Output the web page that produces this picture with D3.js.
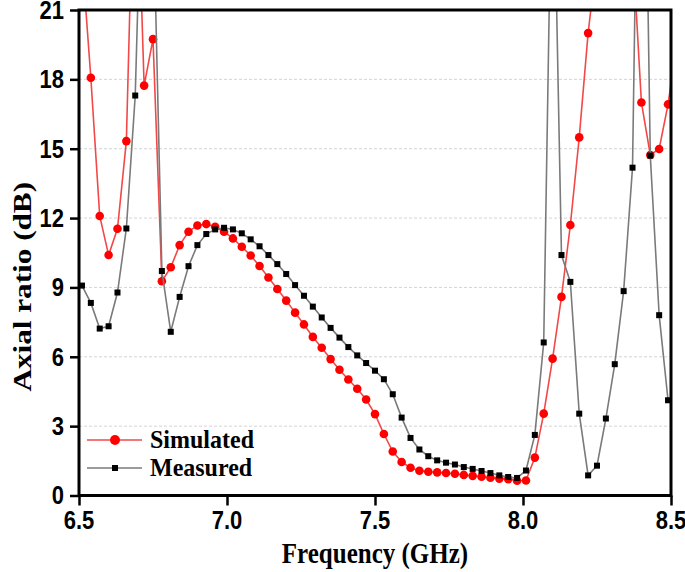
<!DOCTYPE html>
<html><head><meta charset="utf-8">
<script src="https://cdn.jsdelivr.net/npm/d3@7"></script>
<style>body{margin:0;background:#fff}</style>
</head><body><svg id="c" width="685" height="572"></svg>
<script>
// Frequency (GHz)
const freq = [6.51,6.54,6.57,6.60,6.63,6.66,6.69,6.72,6.75,6.78,6.81,6.84,6.87,6.90,6.93,6.96,6.99,
  7.02,7.05,7.08,7.11,7.14,7.17,7.20,7.23,7.26,7.29,7.32,7.35,7.38,7.41,7.44,7.47,7.50,7.53,7.56,7.59,
  7.62,7.65,7.68,7.71,7.74,7.77,7.80,7.83,7.86,7.89,7.92,7.95,7.98,8.01,8.04,8.07,8.10,8.13,8.16,8.19,
  8.22,8.25,8.28,8.31,8.34,8.37,8.40,8.43,8.46,8.49,8.52];
// Axial ratio (dB)
const simulated = [23.3,18.07,12.09,10.40,11.54,15.33,30,17.73,19.74,9.27,9.87,10.83,11.41,11.68,11.74,11.62,11.41,
  11.12,10.76,10.38,9.93,9.43,8.93,8.43,7.91,7.40,6.86,6.39,5.90,5.44,5.02,4.62,4.15,3.52,2.66,1.90,1.45,
  1.20,1.07,1.03,1.00,0.97,0.94,0.89,0.85,0.81,0.77,0.73,0.71,0.64,0.65,1.64,3.54,5.92,8.59,11.70,15.49,
  20.0,23.3,25.5,27,26,23.8,17.0,14.73,14.99,16.92,19.6];
const measured = [9.08,8.33,7.22,7.32,8.78,11.55,17.30,31,26,9.71,7.08,8.59,9.92,10.83,11.31,11.51,11.58,
  11.51,11.34,11.08,10.78,10.40,10.01,9.58,9.10,8.64,8.17,7.70,7.25,6.83,6.42,6.06,5.73,5.40,5.03,4.38,3.37,
  2.49,1.99,1.70,1.52,1.42,1.34,1.23,1.15,1.06,0.97,0.87,0.80,0.76,1.08,2.62,6.62,30,10.40,9.24,3.54,
  0.87,1.29,3.33,5.68,8.84,14.18,40,14.70,7.80,4.12,null];
const xTicks = [6.5,7.0,7.5,8.0,8.5];
const yTicks = [0,3,6,9,12,15,18,21];
const seriesNames = ["Simulated","Measured"];

const svg = d3.select("#c");
const x = d3.scaleLinear().domain([6.5,8.5]).range([79,671]);
const y = d3.scaleLinear().domain([0,21]).range([495.5,10]);
const SY = 1.15; // vertical stretch of the lettering
const sans = "Liberation Sans, Arial, sans-serif";
const serif = "Liberation Serif, Times New Roman, serif";

svg.append("defs").append("clipPath").attr("id","clip")
  .append("rect").attr("x",x(6.5)).attr("y",y(21)).attr("width",x(8.5)-x(6.5)).attr("height",y(0)-y(21));

// grid
svg.append("g").selectAll("line").data(yTicks.filter(d=>d>0&&d<21)).join("line")
  .attr("x1",x(6.5)).attr("x2",x(8.5)).attr("y1",d=>y(d)).attr("y2",d=>y(d))
  .attr("stroke","#d4d4d4").attr("stroke-width",1).attr("stroke-dasharray","3,2");

const data = freq.map((f,i)=>({f, s:simulated[i], m:measured[i]}));
const plot = svg.append("g").attr("clip-path","url(#clip)");

const lineS = d3.line().defined(d=>d.s!=null).x(d=>x(d.f)).y(d=>y(d.s));
const lineM = d3.line().defined(d=>d.m!=null).x(d=>x(d.f)).y(d=>y(d.m));

plot.append("path").datum(data).attr("d",lineS).attr("fill","none").attr("stroke","#f24848").attr("stroke-width",1.6);
plot.append("g").selectAll("circle").data(data.filter(d=>d.s!=null)).join("circle")
  .attr("cx",d=>x(d.f)).attr("cy",d=>y(d.s)).attr("r",4.3).attr("fill","#ff0000");

plot.append("path").datum(data).attr("d",lineM).attr("fill","none").attr("stroke","#7a7a7a").attr("stroke-width",1.6);
plot.append("g").selectAll("rect").data(data.filter(d=>d.m!=null)).join("rect")
  .attr("x",d=>x(d.f)-3).attr("y",d=>y(d.m)-3).attr("width",6).attr("height",6).attr("fill","#000");

// axes (ticks only; labels below)
const ax = svg.append("g").attr("transform",`translate(0,${y(0)})`)
  .call(d3.axisBottom(x).tickValues(xTicks).tickFormat("").tickSize(10).tickSizeOuter(0));
const ay = svg.append("g").attr("transform",`translate(${x(6.5)},0)`)
  .call(d3.axisLeft(y).tickValues(yTicks).tickFormat("").tickSize(9).tickSizeOuter(0));
[ax,ay].forEach(g=>{
  g.select(".domain").remove();
  g.selectAll(".tick line").attr("stroke","#000").attr("stroke-width",2.5);
});
const fx = d3.format(".1f"), fy = d3.format("d");
svg.append("g").selectAll("text").data(xTicks).join("text")
  .attr("transform",d=>`translate(${x(d)},529) scale(1,${SY})`).attr("text-anchor","middle")
  .attr("font-family",sans).attr("font-weight","bold").attr("font-size",22).text(fx);
svg.append("g").selectAll("text").data(yTicks).join("text")
  .attr("transform",d=>`translate(${x(6.5)-15},${y(d)+8.8}) scale(1,${SY})`).attr("text-anchor","end")
  .attr("font-family",sans).attr("font-weight","bold").attr("font-size",22).text(fy);

// frame
svg.append("rect").attr("x",x(6.5)).attr("y",y(21)).attr("width",x(8.5)-x(6.5)).attr("height",y(0)-y(21))
  .attr("fill","none").attr("stroke","#000").attr("stroke-width",3);

// titles
svg.append("text").attr("transform",`translate(${(x(6.5)+x(8.5))/2},563) scale(1,${SY})`).attr("text-anchor","middle")
  .attr("font-family",serif).attr("font-weight","bold").attr("font-size",25)
  .text("Frequency (GHz)");
svg.append("text").attr("transform",`translate(31,${(y(0)+y(21))/2+34}) scale(1,${SY+0.05}) rotate(-90)`).attr("text-anchor","middle")
  .attr("font-family",serif).attr("font-weight","bold").attr("font-size",26)
  .text("Axial ratio (dB)");

// legend
const leg = svg.append("g");
const ly = [440,468];
seriesNames.forEach((n,i)=>{
  const g = leg.append("g");
  g.append("line").attr("x1",87).attr("x2",142).attr("y1",ly[i]).attr("y2",ly[i])
    .attr("stroke", i===0?"#f24848":"#7a7a7a").attr("stroke-width",1.6);
  if(i===0) g.append("circle").attr("cx",115).attr("cy",ly[i]).attr("r",5).attr("fill","#ff0000");
  else g.append("rect").attr("x",112).attr("y",ly[i]-3).attr("width",6).attr("height",6).attr("fill","#000");
  g.append("text").attr("transform",`translate(150,${ly[i]+8}) scale(1,1.08)`)
    .attr("font-family",serif).attr("font-weight","bold").attr("font-size",24)
    .text(n);
});
</script></body></html>
